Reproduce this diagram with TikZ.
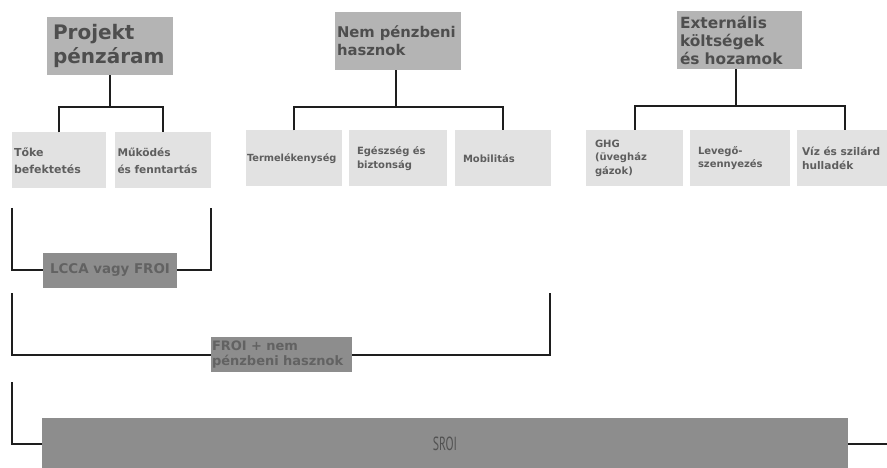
\documentclass[tikz,border=0pt]{standalone}
\usepackage{fontspec}
\usepackage{graphicx}
\setmainfont{DejaVu Sans}
\newfontfamily\sroifont{PT Sans}
\usetikzlibrary{positioning}
\hyphenpenalty=10000
\exhyphenpenalty=10000
\definecolor{topgray}{HTML}{B4B4B4}
\definecolor{topink}{HTML}{4E4E4E}
\definecolor{leafgray}{HTML}{E2E2E2}
\definecolor{leafink}{HTML}{5E5E5E}
\definecolor{sumgray}{HTML}{8D8D8D}
\definecolor{sumink}{HTML}{626262}
\definecolor{linegray}{HTML}{1E1E1E}
\tikzset{
    topBox/.style args={#1 #2}{
        fill=topgray, text=topink, align=left,
        text width=#1, inner xsep=#2, inner ysep=0pt, minimum height=58pt
    },
    leafBox/.style args={#1 #2}{
        fill=leafgray, text=leafink, align=left,
        text width=#1, inner xsep=#2, inner ysep=0pt, minimum height=56pt
    },
    sumBox/.style={
        fill=sumgray, text=sumink, inner sep=0pt, minimum height=35pt
    },
    conn/.style={draw=linegray, line width=2pt}
}
\begin{document}
\begin{tikzpicture}[x=1pt, y=-1pt]
    \useasboundingbox (0,0) rectangle (887,468);
    \clip (0,0) rectangle (887,468);
    \def \leafA {\bfseries\fontsize{11}{17}\selectfont}
    \def \leafB {\bfseries\fontsize{10}{14}\selectfont}
    \def \leafC {\bfseries\fontsize{10}{13.5}\selectfont}
    % top level
    \node[topBox={114pt 6pt}, font={\bfseries\fontsize{20}{24}\selectfont}] (proj) at (110,46) {Projekt\\pénzáram};
    \node[topBox={122pt 2pt}, font={\bfseries\fontsize{14.8}{18}\selectfont}] (nem) at (398,41) {Nem pénzbeni\\hasznok};
    \node[topBox={119pt 3pt}, font={\bfseries\fontsize{15.4}{18}\selectfont}] (ext) at (739.5,40) {Externális\\költségek\\és hozamok};
    % leaves
    \node[leafBox={90pt 2pt}, font=\leafA] (toke) at (59,160.5) {Tőke\\befektetés};
    \node[leafBox={91pt 2.5pt}, font={\bfseries\fontsize{10.6}{17}\selectfont}] (mukodes) at (163,160.5) {Működés\\és fenntartás};
    \node[leafBox={94pt 1pt}, font={\bfseries\fontsize{9.8}{14}\selectfont}] (term) at (294,158.5) {Termelékenység};
    \node[leafBox={82pt 8pt}, font=\leafB] (egesz) at (398,158.5) {Egészség és\\biztonság};
    \node[leafBox={80pt 8pt}, font=\leafB] (mobil) at (503,158.5) {Mobilitás};
    \node[leafBox={79pt 9pt}, font=\leafC] (ghg) at (634.5,158) {GHG\\(üvegház\\gázok)};
    \node[leafBox={84pt 8pt}, font=\leafC] (leveg) at (740,158) {Levegő-\\szennyezés};
    \node[leafBox={86pt 5pt}, font={\bfseries\fontsize{10.6}{14}\selectfont}] (viz) at (845,158) {Víz és szilárd\\hulladék};
    % tree bars
    \coordinate (pbar) at (110,107);
    \coordinate (nbar) at (396,107);
    \coordinate (ebar) at (736,106);
    \draw[conn] (proj.south) -- (pbar);
    \draw[conn] (toke.north) |- (pbar) -| (mukodes.north);
    \draw[conn] (nem.south -| nbar) -- (nbar);
    \draw[conn] (term.north) |- (nbar) -| (mobil.north);
    \draw[conn] (ext.south -| ebar) -- (ebar);
    \draw[conn] (ghg.north) |- (ebar) -| (viz.north);
    % sums
    \node[sumBox, minimum width=134pt, font={\bfseries\fontsize{13.4}{15}\selectfont}] (lcca) at (110,270) {LCCA vagy FROI};
    \node[sumBox, text width=139pt, inner xsep=1pt, align=left, font={\bfseries\fontsize{13}{14.5}\selectfont}] (froi) at (281.5,354.5) {FROI + nem\\pénzbeni hasznok};
    \node[sumBox, minimum width=806pt, minimum height=52pt, text=black!68, font={\sroifont\fontsize{19}{20}\selectfont}] (sroi) at (445,444) {\raisebox{-4pt}{\scalebox{0.62}[1]{SROI}}};
    % brackets
    \coordinate (b1l) at (12,208);
    \coordinate (b1r) at (211,208);
    \coordinate (b2l) at (12,293);
    \coordinate (b2r) at (550,293);
    \coordinate (b3l) at (12,382);
    \coordinate (b3r) at (887,444);
    \draw[conn] (b1l) |- (lcca.west);
    \draw[conn] (lcca.east) -| (b1r);
    \draw[conn] (b2l) |- (froi.west);
    \draw[conn] (froi.east) -| (b2r);
    \draw[conn] (b3l) |- (sroi.west);
    \draw[conn] (sroi.east) -- (b3r);
\end{tikzpicture}
\end{document}
